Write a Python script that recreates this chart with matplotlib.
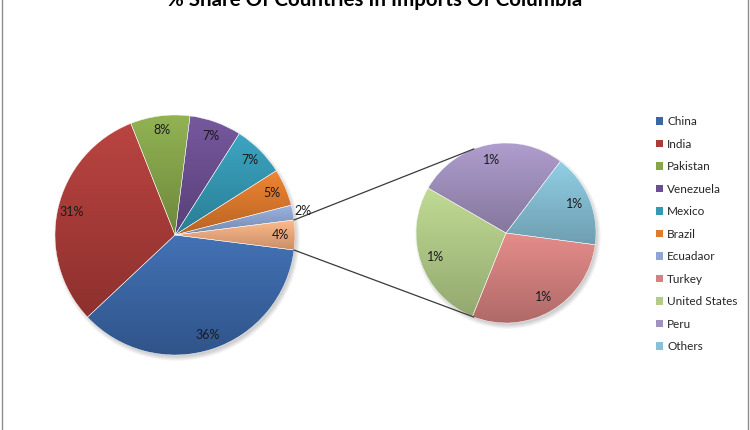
import numpy as np
import matplotlib
matplotlib.use('Agg')
import matplotlib.pyplot as plt
from matplotlib.colors import to_rgb
from matplotlib.patches import Patch

# data
main_labels = ['China', 'India', 'Pakistan', 'Venezuela', 'Mexico', 'Brazil', 'Ecuadaor']
main_values = [36, 31, 8, 7, 7, 5, 2]
sub_labels = ['Turkey', 'United States', 'Peru', 'Others']
sub_values = [1.16, 1.09, 1.08, 0.67]

main_colors = ['#3A67A8', '#AD3B38', '#86A649', '#6C4E92', '#3399B5', '#E17A2B', '#8EA6D3']
other_color = '#F6AE80'
sub_colors = ['#D6817F', '#B3CD88', '#A291C0', '#86C1D7']

title = '% Share Of Countries In Imports Of Columbia'

plt.rcParams['font.family'] = ['Lato', 'DejaVu Sans']

fig = plt.figure(figsize=(7.5, 4.3), dpi=100)
ax = fig.add_axes([0, 0, 1, 1])


def shade(w, color):
    # vertical gradient inside a wedge, lighter on top
    bb = w.get_path().get_extents()
    c = np.array(to_rgb(color))
    top = np.clip(c * 1.03 + 0.03, 0, 1)
    bot = c * 0.82
    g = np.linspace(0, 1, 64)[:, None, None]
    img = top * (1 - g) + bot * g
    im = ax.imshow(img, extent=(bb.x0, bb.x1, bb.y0, bb.y1), origin='upper',
                   aspect='auto', interpolation='bilinear', zorder=0.9)
    im.set_clip_path(w)
    w.set_facecolor('none')


def shadow(center, r):
    for k in range(8):
        circ = plt.Circle((center[0] + 2, center[1] - 3), r + 3 - k * 0.6,
                          color='black', alpha=0.025, lw=0, zorder=0.5)
        ax.add_patch(circ)


# main pie
other_total = sum(sub_values)
vals = main_values + [other_total]
total = sum(vals)
main_center = (175, 195)
main_r = 120
start = -other_total / total * 180
shadow(main_center, main_r)
wedges, _ = ax.pie(vals, colors=main_colors + [other_color], startangle=start,
                   counterclock=False, center=main_center, radius=main_r,
                   wedgeprops=dict(edgecolor='white', linewidth=0.3, zorder=1))
for w, c in zip(wedges, main_colors + [other_color]):
    shade(w, c)

for i, w in enumerate(wedges):
    a = np.deg2rad((w.theta1 + w.theta2) / 2)
    d = 0.88 if vals[i] / total > 0.03 else 1.085
    x = main_center[0] + d * main_r * np.cos(a)
    y = main_center[1] + d * main_r * np.sin(a)
    ax.text(x, y, f'{vals[i] / total * 100:.0f}%', ha='center', va='center',
            fontsize=9, color='#1a1a1a', zorder=3)

# second pie
sub_center = (506, 197)
sub_r = 90
shadow(sub_center, sub_r)
swedges, _ = ax.pie(sub_values, colors=sub_colors, startangle=-7.5,
                    counterclock=False, center=sub_center, radius=sub_r,
                    wedgeprops=dict(edgecolor='white', linewidth=0.3, zorder=1))
for w, c in zip(swedges, sub_colors):
    shade(w, c)

for i, w in enumerate(swedges):
    a = np.deg2rad((w.theta1 + w.theta2) / 2)
    x = sub_center[0] + 0.83 * sub_r * np.cos(a)
    y = sub_center[1] + 0.83 * sub_r * np.sin(a)
    ax.text(x, y, f'{sub_values[i] / total * 100:.0f}%', ha='center', va='center',
            fontsize=9, color='#1a1a1a', zorder=3)

# connector lines
ow = wedges[-1]
for t_main, t_sub in [(ow.theta2, 111), (ow.theta1, -111)]:
    p0 = (main_center[0] + main_r * np.cos(np.deg2rad(t_main)),
          main_center[1] + main_r * np.sin(np.deg2rad(t_main)))
    p1 = (sub_center[0] + sub_r * np.cos(np.deg2rad(t_sub)),
          sub_center[1] + sub_r * np.sin(np.deg2rad(t_sub)))
    ax.plot([p0[0], p1[0]], [p0[1], p1[1]], color='#3a3a3a', lw=0.9, zorder=2)

# legend
handles = [Patch(facecolor=c) for c in main_colors + sub_colors]
ax.legend(handles, main_labels + sub_labels, loc='upper left',
          bbox_to_anchor=(656, 314), bbox_transform=ax.transData,
          frameon=False, fontsize=8.5, handlelength=0.6, handleheight=0.6,
          handletextpad=0.35, labelspacing=0.975, borderpad=0, borderaxespad=0,
          labelcolor='#262626')

ax.text(375, 424, title, ha='center', va='baseline', fontsize=14.8,
        fontweight='bold', color='black')

# chart border (left and right edges visible)
ax.plot([1.5, 1.5], [0, 430], color='#8c8c8c', lw=1)
ax.plot([748, 748], [0, 430], color='#8c8c8c', lw=1)

ax.set_xlim(0, 750)
ax.set_ylim(0, 430)
ax.set_aspect('equal')
ax.axis('off')

fig.savefig('out.png', dpi=100)
